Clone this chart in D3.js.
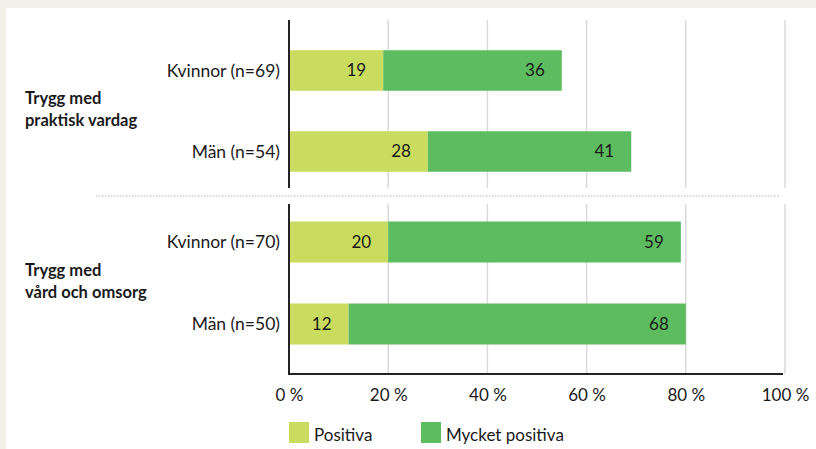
<!DOCTYPE html>
<html>
<head>
<meta charset="utf-8">
<script src="https://cdn.jsdelivr.net/npm/d3@7"></script>
<style>
  body { margin: 0; background: #f1f1ea; }
  svg { display: block; }
  text { font-family: Lato, "Liberation Sans", sans-serif; fill: #1a1a1a; }
</style>
</head>
<body>
<div id="chart"></div>
<script>
// Data
const groupLabels = [["Trygg med", "praktisk vardag"], ["Trygg med", "vård och omsorg"]];
const rowLabels = [["Kvinnor (n=69)", "Män (n=54)"], ["Kvinnor (n=70)", "Män (n=50)"]];
const positiva = [[19, 28], [20, 12]];
const mycketPositiva = [[36, 41], [59, 68]];
const tickValues = [0, 20, 40, 60, 80, 100];
const seriesNames = ["Positiva", "Mycket positiva"];
const colors = ["#c9dc5f", "#5dbc60"];

const width = 816, height = 449;

const svg = d3.select("#chart")
  .append("svg")
    .attr("width", width)
    .attr("height", height);

// white panel
svg.append("rect")
  .attr("x", 6).attr("y", 8)
  .attr("width", width).attr("height", height)
  .attr("fill", "#fff");

// X scale, shared by both blocks
const x = d3.scaleLinear().domain([0, 100]).range([289, 785]);

// each block: axis extent and band range for the bars
const sections = [
  {top: 20, bottom: 188, band: [30, 192], baseline: false},
  {top: 204, bottom: 374, band: [201, 365], baseline: true}
];

sections.forEach(function(s, gi) {
  const g = svg.append("g");

  const y = d3.scaleBand()
    .domain(rowLabels[gi])
    .range(s.band)
    .paddingInner(0.5)
    .paddingOuter(0.25);

  // gridlines
  g.selectAll(".grid")
    .data(tickValues.slice(1))
    .enter()
    .append("line")
      .attr("x1", function(d) { return x(d); })
      .attr("x2", function(d) { return x(d); })
      .attr("y1", s.top)
      .attr("y2", s.bottom)
      .attr("stroke", "#dadada")
      .attr("stroke-width", 1.5);

  // rows of stacked bars
  rowLabels[gi].forEach(function(r, ri) {
    const vals = [positiva[gi][ri], mycketPositiva[gi][ri]];
    let start = 0;
    vals.forEach(function(v, si) {
      g.append("rect")
        .attr("x", x(start))
        .attr("y", y(r))
        .attr("width", x(start + v) - x(start))
        .attr("height", y.bandwidth())
        .attr("fill", colors[si]);
      g.append("text")
        .attr("x", x(start + v) - 17)
        .attr("y", y(r) + y.bandwidth() / 2)
        .attr("dy", "0.35em")
        .attr("text-anchor", "end")
        .attr("font-size", 17)
        .text(v);
      start += v;
    });

    // row label
    g.append("text")
      .attr("x", 280)
      .attr("y", y(r) + y.bandwidth() / 2)
      .attr("dy", "0.35em")
      .attr("text-anchor", "end")
      .attr("font-size", 17.5)
      .text(r);
  });

  // group label, two lines, centred on the block
  const mid = (y(rowLabels[gi][0]) + y(rowLabels[gi][1]) + y.bandwidth()) / 2;
  const gl = g.append("text")
    .attr("x", 25)
    .attr("y", mid - 7)
    .attr("font-size", 16.5)
    .attr("font-family", "'Liberation Sans', Arial, sans-serif")
    .attr("font-weight", "bold");
  groupLabels[gi].forEach(function(line, li) {
    gl.append("tspan")
      .attr("x", 25)
      .attr("dy", li == 0 ? 0 : 22)
      .text(line);
  });

  // left axis line
  g.append("line")
    .attr("x1", x(0)).attr("x2", x(0))
    .attr("y1", s.top).attr("y2", s.bottom)
    .attr("stroke", "#222")
    .attr("stroke-width", 2);

  if (s.baseline) {
    g.append("line")
      .attr("x1", x(0) - 1).attr("x2", x(100) - 2)
      .attr("y1", s.bottom).attr("y2", s.bottom)
      .attr("stroke", "#222")
      .attr("stroke-width", 2);
  }
});

// dotted divider between the blocks
svg.append("line")
  .attr("x1", 96).attr("x2", 780)
  .attr("y1", 196).attr("y2", 196)
  .attr("stroke", "#cfcfcf")
  .attr("stroke-width", 1.5)
  .attr("stroke-dasharray", "1.5,1.5");

// X axis tick labels
const xAxis = svg.append("g")
  .attr("transform", "translate(0,388)")
  .call(d3.axisBottom(x)
    .tickValues(tickValues)
    .tickSize(0)
    .tickPadding(0)
    .tickFormat(function(d) { return d + " %"; }));
xAxis.select(".domain").remove();
xAxis.selectAll("text")
  .attr("font-size", 17)
  .attr("font-family", "Lato, 'Liberation Sans', sans-serif")
  .attr("fill", "#1a1a1a")
  .attr("dy", "0.75em");

// legend
const legendX = [289, 421];
seriesNames.forEach(function(name, i) {
  svg.append("rect")
    .attr("x", legendX[i])
    .attr("y", 422)
    .attr("width", 20)
    .attr("height", 21)
    .attr("fill", colors[i]);
  svg.append("text")
    .attr("x", legendX[i] + 25)
    .attr("y", 441)
    .attr("font-size", 17)
    .text(name);
});
</script>
</body>
</html>
